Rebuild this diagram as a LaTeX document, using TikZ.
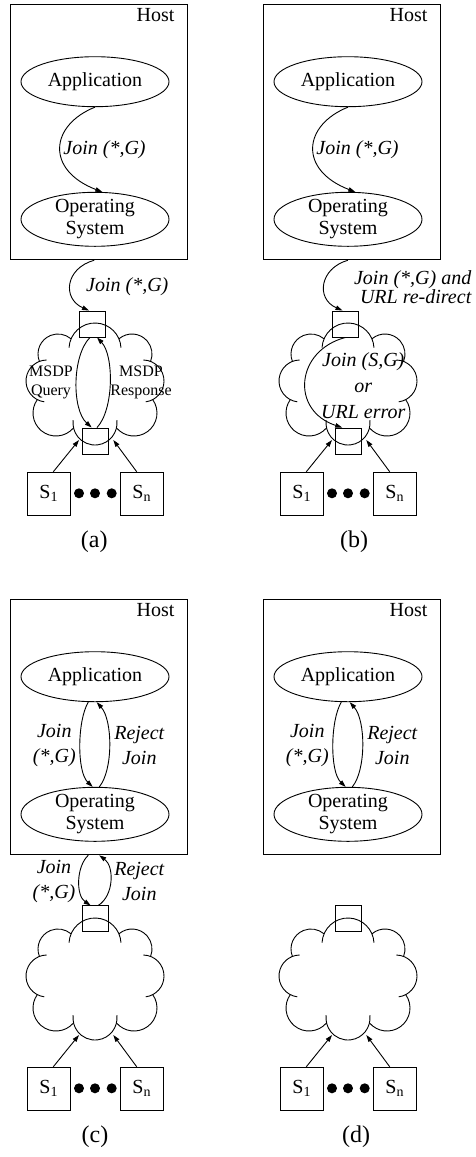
\documentclass[tikz,border=0pt]{standalone}
\usepackage{fontspec}
\setmainfont{Liberation Serif}
\usetikzlibrary{shapes.geometric,arrows.meta,calc}

\tikzset{
  ln/.style={line width=0.9pt},
  hostbox/.style={draw, ln, minimum width=177pt, minimum height=255pt},
  proc/.style={draw, ln, ellipse, minimum width=148pt, inner xsep=0pt, inner ysep=-3pt,
    align=center, font=\fontsize{20}{22}\selectfont},
  port/.style={draw, ln, minimum width=26pt, minimum height=26pt},
  src/.style={draw, ln, minimum width=43pt, minimum height=43pt, font=\fontsize{20}{22}\selectfont},
  lbl/.style={font=\fontsize{20}{25}\selectfont\itshape, align=center},
  msdp/.style={font=\fontsize{16}{18.4}\selectfont, align=center},
  captext/.style={font=\fontsize{24}{26}\selectfont},
  tag/.style={font=\fontsize{20}{22}\selectfont},
  flow/.style={ln, -{Triangle[length=7pt,width=4.5pt]}},
  dot/.style={circle, fill, minimum size=10pt},
}

% One puff of a cloud: #1 cloud centre, #2/#3 puff centre offset, #4 radius, #5/#6 angles
\newcommand\puff[6]{%
  \draw[ln] ([shift={(#2,#3)}]#1) ++(#5:#4) arc[start angle=#5, end angle=#6, radius=#4];}

% Cloud made of eight overlapping puffs around coordinate #1
\newcommand\cloudpuffs[1]{%
  \puff{#1}{0}{-35}{26}{183}{357}%
  \puff{#1}{37}{-30}{20}{229.3}{381.8}%
  \puff{#1}{48}{-3}{21}{-88.8}{82.5}%
  \puff{#1}{39}{29}{23}{-35.6}{139.7}%
  \puff{#1}{0}{39}{22}{-7.2}{187.2}%
  \puff{#1}{-39}{29}{23}{40.3}{215.6}%
  \puff{#1}{-48}{-3}{21}{97.5}{268.8}%
  \puff{#1}{-37}{-30}{20}{158.2}{310.7}%
}

% Host box with application and operating-system processes
% #1 name suffix, #2 x offset, #3 y offset
\newcommand\hostparts[3]{%
  \node[hostbox] (host#1) at ({#2+99.2},{#3+132.3}) {};
  \node[tag, anchor=base east, xshift=-13.5pt, yshift=-17pt] (hosttag#1) at (host#1.north east) {Host};
  \node[proc, minimum height=50pt] (app#1) at ({#2+95},{#3+81.7}) {Application};
  \node[proc, minimum height=54pt] (os#1) at ({#2+95},{#3+219.3}) {Operating\\System};
}

% Network cloud with the sources S1 ... Sn and the caption
% #1 name suffix, #2 x offset, #3 y offset, #4 caption, #5 caption x
\newcommand\netparts[5]{%
  \coordinate (cloud#1) at ({#2+95},{#3+384});
  \cloudpuffs{cloud#1}
  \node[src] (sa#1) at ({#2+48.7},{#3+493.7}) {S\textsubscript{1}};
  \node[src] (sb#1) at ({#2+141.7},{#3+493.7}) {S\textsubscript{n}};
  \node[dot] (da#1) at ({#2+79},{#3+493.3}) {};
  \node[dot] (db#1) at ({#2+95},{#3+493.3}) {};
  \node[dot] (dc#1) at ({#2+111.7},{#3+493.3}) {};
  \coordinate (ina#1) at ({#2+79},{#3+440});
  \coordinate (inb#1) at ({#2+113.3},{#3+440});
  \draw[flow] ([xshift=4.6pt]sa#1.north) -- (ina#1);
  \draw[flow] ([xshift=-5pt]sb#1.north) -- (inb#1);
  \node[captext] (cap#1) at ({#5},{#3+541.7}) {#4};
}

\begin{document}
\begin{tikzpicture}[x=1pt,y=-1pt, every node/.style={inner sep=0pt}]
\useasboundingbox (0,0) rectangle (475,1157);

% ---------------- (a) ----------------
\hostparts{A}{0}{0}
\draw[flow] (appA.south) .. controls +(-45,18) and +(-57,-22) .. (osA.75);
\node[lbl] (jA) at (104.5,150) {Join (*,G)};
\netparts{A}{0}{0}{(a)}{94.2}
\node[port] (topA) at (92.5,324) {};
\node[port] (botA) at (95.2,441) {};
\draw[flow] ([xshift=-5pt]hostA.south) .. controls +(-29,8) and +(-27,-12) .. ([xshift=-3.5pt]topA.north);
\node[lbl] (j2A) at (127.3,287) {Join (*,G)};
\draw[flow] ([xshift=-2.5pt]topA.south) .. controls +(-18,18) and +(-20,-18) .. ([xshift=-3.5pt]botA.north);
\draw[flow] ([xshift=1.8pt]botA.north) .. controls +(17,-18) and +(17,18) .. ([xshift=4.5pt]topA.south);
\node[msdp] (qA) at (51,382.5) {MSDP\\Query};
\node[msdp] (rA) at (141,382.5) {MSDP\\Response};

% ---------------- (b) ----------------
\hostparts{B}{253}{0}
\draw[flow] (appB.south) .. controls +(-45,18) and +(-57,-22) .. (osB.75);
\node[lbl] (jB) at (357.5,150) {Join (*,G)};
\netparts{B}{253}{0}{(b)}{354.2}
\node[port] (topB) at (345.5,324) {};
\node[port] (botB) at (348.2,441) {};
\draw[flow] ([xshift=-4.3pt]hostB.south) .. controls +(-28,8) and +(-27,-12) .. ([xshift=-3pt]topB.north);
\node[lbl, font=\fontsize{20}{18.5}\selectfont\itshape, align=right, anchor=east] (j2B) at (471.5,287) {Join (*,G) and\\URL re-direct};
\draw[flow] (topB.south) .. controls +(-50,13) and +(-52,-17) .. ([xshift=-6pt]botB.north);
\node[lbl, font=\fontsize{20}{26}\selectfont\itshape] (sgB) at (363.3,386) {Join (S,G)\\or\\URL error};

% ---------------- (c) ----------------
\hostparts{C}{0}{595}
\draw[flow] ([xshift=-6.7pt]appC.south) .. controls +(-11,18) and +(-16,-15) .. ([xshift=-2.3pt]osC.north);
\draw[flow] ([xshift=4.3pt]osC.north) .. controls +(14,-17) and +(16,18) .. ([xshift=1.7pt]appC.south);
\node[lbl] (jC) at (54.3,745) {Join\\(*,G)};
\node[lbl] (rjC) at (139.3,745) {Reject\\Join};
\netparts{C}{0}{595}{(c)}{95}
\node[port] (topC) at (95.2,918.9) {};
\draw[flow] ([xshift=-10.9pt]hostC.south) .. controls +(-12,11) and +(-15,-10) .. ([xshift=-4.5pt]topC.north);
\draw[flow] ([xshift=3pt]topC.north) .. controls +(16,-10) and +(15,11) .. (hostC.south);
\node[lbl] (j2C) at (54,881) {Join\\(*,G)};
\node[lbl] (rj2C) at (139.3,881) {Reject\\Join};

% ---------------- (d) ----------------
\hostparts{D}{253}{595}
\draw[flow] ([xshift=-6.7pt]appD.south) .. controls +(-11,18) and +(-16,-15) .. ([xshift=-2.3pt]osD.north);
\draw[flow] ([xshift=4.3pt]osD.north) .. controls +(14,-17) and +(16,18) .. ([xshift=1.7pt]appD.south);
\node[lbl] (jD) at (307.3,745) {Join\\(*,G)};
\node[lbl] (rjD) at (392.3,745) {Reject\\Join};
\netparts{D}{253}{595}{(d)}{356}
\node[port] (topD) at (348.2,918.9) {};
\end{tikzpicture}
\end{document}
